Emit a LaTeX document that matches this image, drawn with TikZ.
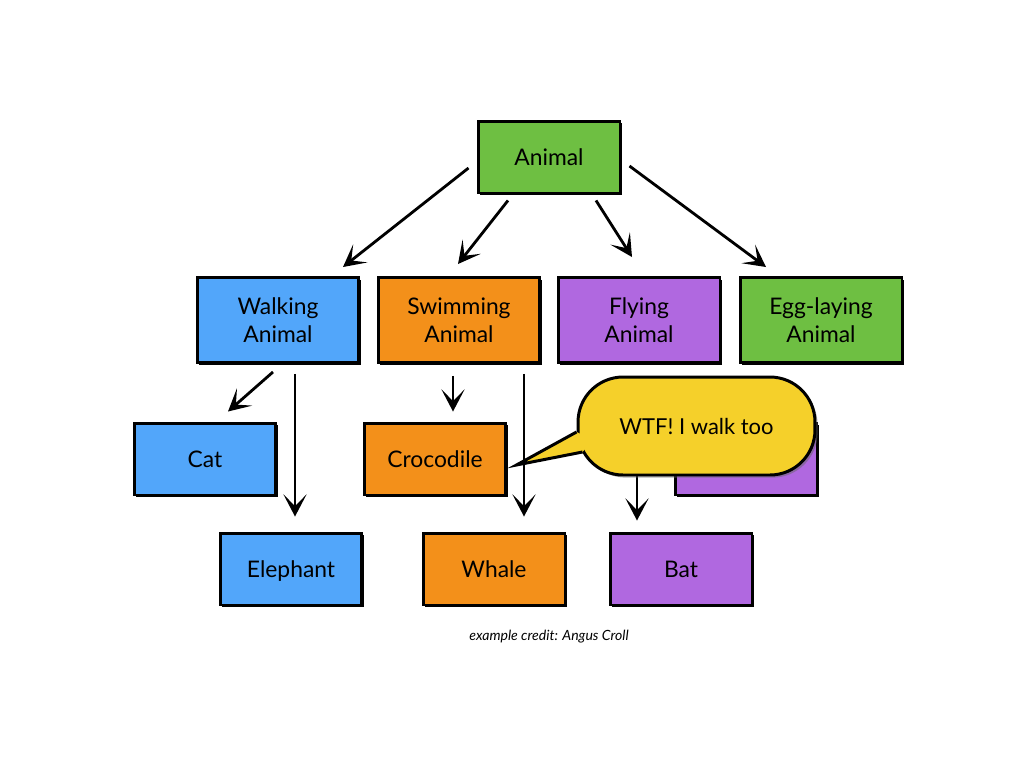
\documentclass[tikz,border=0pt]{standalone}
\usepackage{fontspec}
\setmainfont{Lato}
\usetikzlibrary{
    arrows.meta,
    calc,
    positioning,
    shadows,
}
\definecolor{walkblue}{RGB}{82,166,250}
\definecolor{swimorange}{RGB}{243,144,26}
\definecolor{flypurple}{RGB}{176,104,224}
\definecolor{egggreen}{RGB}{110,191,66}
\definecolor{bubbleyellow}{RGB}{245,208,42}
\tikzstyle{box}=[draw,rectangle,line width=1.7pt,minimum width=2.84cm,minimum height=1.44cm,inner sep=1mm,text height=2.3ex,text depth=.4ex,font=\fontsize{13}{16}\selectfont,general shadow={fill=black,shadow xshift=1.3pt,shadow yshift=-1.3pt}]
\tikzstyle{bigbox}=[box,minimum width=3.24cm,minimum height=1.7cm,text height={},text depth={},align=center]
\tikzstyle{arr}=[line width=1.6pt,-{Stealth[length=4.4mm,width=4.6mm,inset=2.3mm]}]
\tikzstyle{bubble}=[draw,rectangle,line width=1.7pt,fill=bubbleyellow,rounded corners=0.9cm,minimum width=4.74cm,minimum height=1.96cm,font=\fontsize{12.5}{15}\selectfont,general shadow={fill=black!60,shadow xshift=1.5pt,shadow yshift=-1.5pt,opacity=.5}]

\begin{document}
\begin{tikzpicture}[x=0.02cm,y=-0.02cm]
    \useasboundingbox[fill=white] (0,0) rectangle (1024,768);
    % top
    \node[box,fill=egggreen] (animal) at (549,157) {Animal};
    % second row
    \node[bigbox,fill=walkblue] (walk) at (278,320) {Walking\\Animal};
    \node[bigbox,fill=swimorange] (swim) at (459,320) {Swimming\\Animal};
    \node[bigbox,fill=flypurple] (fly) at (639,320) {Flying\\Animal};
    \node[bigbox,fill=egggreen] (egg) at (821,320) {Egg-laying\\Animal};
    % leaves
    \node[box,fill=walkblue] (cat) at (205,459) {Cat};
    \node[box,fill=swimorange] (croc) at (435,459) {Crocodile};
    \node[box,fill=flypurple] (hidden) at (746,459) {};
    \node[box,fill=walkblue] (eleph) at (291,569) {Elephant};
    \node[box,fill=swimorange] (whale) at (494,569) {Whale};
    \node[box,fill=flypurple] (bat) at (681,569) {Bat};

    \draw[arr] ($(animal.west)+(-8,11)$) -- ($(walk.north)+(65,-9)$);
    \draw[arr] ($(animal.south)+(-41,6)$) -- ($(swim.north)+(-1,-12)$);
    \draw[arr] ($(animal.south)+(47,6)$) -- ($(fly.north)+(-7,-19)$);
    \draw[arr] ($(animal.east)+(8,9)$) -- ($(egg.north)+(-55,-9)$);
    \draw[arr] ($(walk.south)+(-5,8)$) -- ($(cat.north)+(23,-10)$);
    \draw[arr] ($(walk.south)+(17,10)$) -- ($(eleph.north)+(4,-15)$);
    \draw[arr] ($(swim.south)+(-6,12)$) -- ($(croc.north)+(18,-10)$);
    \draw[arr] ($(fly.south)+(-2,22)$) -- ($(bat.north)+(-44,-11)$);
    \draw[arr] ($(fly.south)+(40,12)$) -- ($(hidden.north)+(-67,-10)$);

    % speech bubble
    \node[bubble] (wtf) at (696.5,426) {WTF! I walk too};
    \coordinate (tip) at ($(croc.east)+(9,6)$);
    \fill[bubbleyellow] ($(wtf.west)+(0,6)$) -- (tip) -- ($(wtf.west)+(6,26)$) -- ($(wtf.west)+(16,14)$) -- cycle;
    \draw[line width=1.7pt,line join=miter] ($(wtf.west)+(0,6)$) -- (tip) -- ($(wtf.west)+(6,26)$);

    \draw[arr] ($(swim.south)+(65,10)$) -- ($(whale.north)+(30,-15)$);

    \node[font=\fontsize{8}{10}\selectfont\itshape] (credit) at (549,637) {example credit: Angus Croll};
\end{tikzpicture}
\end{document}
